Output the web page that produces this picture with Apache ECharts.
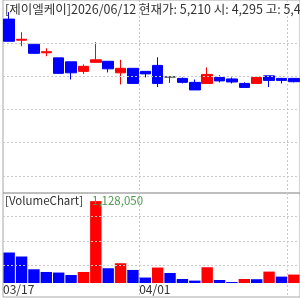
<!DOCTYPE html>
<html>
<head>
<meta charset="utf-8">
<script src="https://cdn.jsdelivr.net/npm/echarts@6/dist/echarts.min.js"></script>
<style>
html, body { margin: 0; padding: 0; background: #fff; }
#chart { width: 300px; height: 300px; }
</style>
</head>
<body>
<div id="chart"></div>
<script>
"use strict"
// 거래일 (03/17 ~ 04/17)
const dates = ['03/17', '03/18', '03/19', '03/20', '03/23', '03/24', '03/25', '03/26', '03/27', '03/30', '03/31',
    '04/01', '04/02', '04/03', '04/06', '04/07', '04/08', '04/09', '04/10', '04/13', '04/14', '04/15', '04/16', '04/17'];
// [시가, 종가, 저가, 고가]
const candles = [
    [5682, 5515, 5515, 5735],
    [5523, 5530, 5477, 5583],
    [5492, 5424, 5424, 5492],
    [5428, 5436, 5402, 5462],
    [5390, 5273, 5273, 5390],
    [5360, 5277, 5227, 5360],
    [5288, 5326, 5269, 5341],
    [5356, 5375, 5356, 5508],
    [5364, 5307, 5280, 5364],
    [5277, 5311, 5189, 5375],
    [5311, 5197, 5197, 5311],
    [5288, 5269, 5242, 5288],
    [5333, 5197, 5170, 5394],
    [5246, 5246, 5201, 5246],
    [5235, 5205, 5197, 5242],
    [5205, 5148, 5148, 5227],
    [5197, 5265, 5197, 5318],
    [5242, 5216, 5205, 5258],
    [5231, 5208, 5197, 5242],
    [5197, 5167, 5167, 5205],
    [5197, 5242, 5197, 5242],
    [5254, 5220, 5170, 5254],
    [5235, 5220, 5197, 5239],
    [5235, 5210, 5205, 5235],
];
const volumes = [420000, 365000, 189000, 152000, 144000, 110000, 152000, 1128050, 203000, 272000, 180000, 75000,
    213000, 138000, 55000, 33000, 217000, 41000, 14000, 55000, 52000, 157000, 88000, 116000];

const priceTicks = [4500, 4750, 5000, 5250, 5500];
const volumeTicks = [241000, 579000, 916000];
const dateLabels = ['03/17', '04/01'];
const dateLines = ['04/01', '04/17'];

const headerText = '[제이엘케이]2026/06/12 현재가: 5,210 시: 4,295 고: 5,460';
const priceMin = 4371, priceMax = 5826;
const volMin = -193000, volMax = 1240000;

const UP = '#ff0000', DOWN = '#0000ff';
const font = '"Noto Sans CJK KR", sans-serif';

const chart = echarts.init(document.getElementById('chart'), null, { renderer: 'canvas' });

const gridLineStyle = { color: '#c8c8c8', width: 1, type: [2, 2] };
// 라벨용 축은 경계선 위치에 점을 두려고 하나 더 둔다
const edgeDates = dates.concat(['']);

function tickLines(values, key) {
    return {
        silent: true,
        symbol: ['none', 'none'],
        label: { show: false },
        lineStyle: gridLineStyle,
        animation: false,
        data: values.map(function (v) { var o = {}; o[key] = v; return o; })
    };
}

function textTitle(text, left, top, size, color) {
    return {
        text: text, left: left, top: top, padding: 0,
        textStyle: { fontSize: size, fontWeight: 'normal', color: color, fontFamily: font }
    };
}

const option = {
    animation: false,
    title: [
        textTitle(headerText, 5, 3, 12.5, '#333'),
        textTitle('[VolumeChart]', 5, 195, 11.5, '#333'),
        textTitle(Math.max.apply(null, volumes).toLocaleString('en-US'), 92, 195, 11.5, '#4e9a4e')
    ],
    grid: [
        { left: 3, right: -6, top: 0, height: 193, show: true, borderColor: '#a8a8a8', borderWidth: 1 },
        { left: 3, right: -6, top: 193, height: 104, show: true, borderColor: '#a8a8a8', borderWidth: 1 }
    ],
    xAxis: [
        { type: 'category', gridIndex: 0, data: dates, boundaryGap: true, show: false },
        { type: 'category', gridIndex: 1, data: dates, boundaryGap: true, show: false },
        {
            type: 'category', gridIndex: 0, data: edgeDates, boundaryGap: false,
            axisLine: { show: false }, axisTick: { show: false }, axisLabel: { show: false },
            splitLine: { show: true, lineStyle: gridLineStyle, interval: function (i, v) { return dateLines.indexOf(v) >= 0; } }
        },
        {
            type: 'category', gridIndex: 1, data: edgeDates, boundaryGap: false, position: 'bottom',
            axisLine: { show: false }, axisTick: { show: false },
            axisLabel: {
                show: true, inside: true, margin: 2, align: 'left', fontSize: 12, color: '#333', fontFamily: font,
                interval: function (i, v) { return dateLabels.indexOf(v) >= 0; }
            },
            splitLine: { show: true, lineStyle: gridLineStyle, interval: function (i, v) { return dateLines.indexOf(v) >= 0; } }
        }
    ],
    yAxis: [
        { type: 'value', gridIndex: 0, min: priceMin, max: priceMax, show: false, splitLine: { show: false } },
        { type: 'value', gridIndex: 1, min: volMin, max: volMax, show: false, splitLine: { show: false } }
    ],
    series: [
        {
            type: 'candlestick',
            xAxisIndex: 0, yAxisIndex: 0,
            data: candles,
            barWidth: 11,
            itemStyle: {
                color: UP, color0: DOWN, borderColor: UP, borderColor0: DOWN, borderColorDoji: '#333', borderWidth: 1
            },
            markLine: tickLines(priceTicks, 'yAxis')
        },
        {
            type: 'bar',
            xAxisIndex: 1, yAxisIndex: 1,
            data: volumes,
            barCategoryGap: '8%',
            itemStyle: {
                color: function (p) {
                    // 전일 대비 거래량 증가면 빨강
                    return p.dataIndex > 0 && volumes[p.dataIndex] > volumes[p.dataIndex - 1] ? UP : DOWN;
                }
            },
            markLine: tickLines(volumeTicks, 'yAxis')
        }
    ]
};
chart.setOption(option);
</script>
</body>
</html>
